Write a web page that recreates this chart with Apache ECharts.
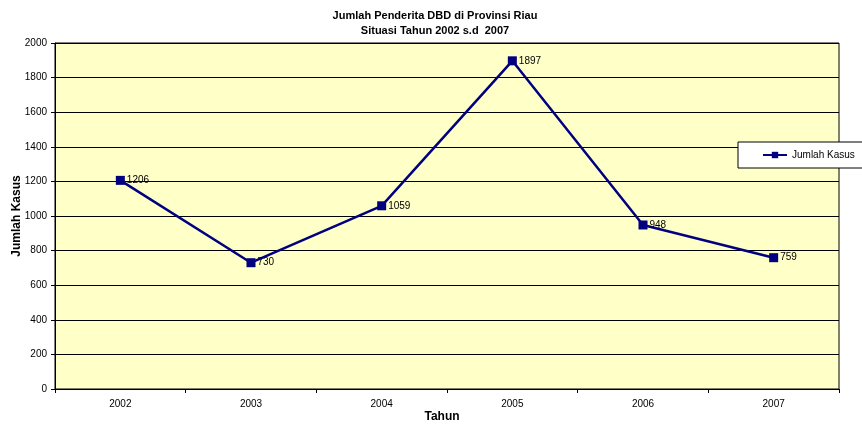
<!DOCTYPE html>
<html>
<head>
<meta charset="utf-8">
<script src="https://cdn.jsdelivr.net/npm/echarts@6/dist/echarts.min.js"></script>
<style>
html, body { margin: 0; padding: 0; background: #fff; }
#main { width: 862px; height: 429px; }
</style>
</head>
<body>
<div id="main"></div>
<script>
var tahun = ['2002', '2003', '2004', '2005', '2006', '2007'];
var jumlahKasus = [1206, 730, 1059, 1897, 948, 759];

var chart = echarts.init(document.getElementById('main'));
var font = 'Liberation Sans, Arial, sans-serif';

var option = {
    animation: false,
    textStyle: { fontFamily: font },
    title: {
        text: 'Jumlah Penderita DBD di Provinsi Riau\nSituasi Tahun 2002 s.d  2007',
        left: 430,
        textAlign: 'center',
        top: 3,
        textStyle: { fontSize: 11, fontWeight: 'bold', color: '#000', lineHeight: 15, fontFamily: font }
    },
    legend: {
        left: 738,
        top: 142,
        padding: [8, 25, 8, 24],
        backgroundColor: '#fff',
        borderColor: '#000',
        borderWidth: 1,
        borderRadius: 0,
        itemWidth: 24,
        itemHeight: 8,
        itemGap: 4,
        textStyle: { fontSize: 10, color: '#000', fontFamily: font },
        data: ['Jumlah Kasus']
    },
    grid: {
        left: 55,
        right: 23,
        top: 43,
        bottom: 40,
        outerBoundsMode: 'none',
        containLabel: false,
        show: true,
        backgroundColor: '#FFFFC8',
        borderColor: '#000',
        borderWidth: 1
    },
    xAxis: {
        type: 'category',
        data: tahun,
        boundaryGap: true,
        name: 'Tahun',
        nameLocation: 'middle',
        nameGap: 22,
        nameMoveOverlap: false,
        nameTextStyle: { fontSize: 12, fontWeight: 'bold', color: '#000', padding: [0, 0, 0, -10] },
        axisLine: { lineStyle: { color: '#000', width: 1 } },
        axisTick: { show: true, length: 4, lineStyle: { color: '#000' } },
        axisLabel: { fontSize: 10, color: '#000', margin: 10 }
    },
    yAxis: {
        type: 'value',
        min: 0,
        max: 2000,
        interval: 200,
        name: 'Jumlah Kasus',
        nameLocation: 'middle',
        nameGap: 32,
        nameMoveOverlap: false,
        nameTextStyle: { fontSize: 12, fontWeight: 'bold', color: '#000' },
        axisLine: { show: true, lineStyle: { color: '#000', width: 1 } },
        axisTick: { show: true, length: 4, lineStyle: { color: '#000' } },
        axisLabel: { fontSize: 10, color: '#000', margin: 8, formatter: function (v) { return String(v); } },
        splitLine: { show: true, lineStyle: { color: '#000', width: 1 } }
    },
    series: [{
        name: 'Jumlah Kasus',
        type: 'line',
        data: jumlahKasus,
        symbol: 'rect',
        symbolSize: 9,
        color: '#000080',
        lineStyle: { color: '#000080', width: 2.5 },
        itemStyle: { color: '#000080' },
        label: {
            show: true,
            position: 'right',
            distance: 2,
            fontSize: 10,
            color: '#000'
        }
    }]
};

chart.setOption(option);
</script>
</body>
</html>
